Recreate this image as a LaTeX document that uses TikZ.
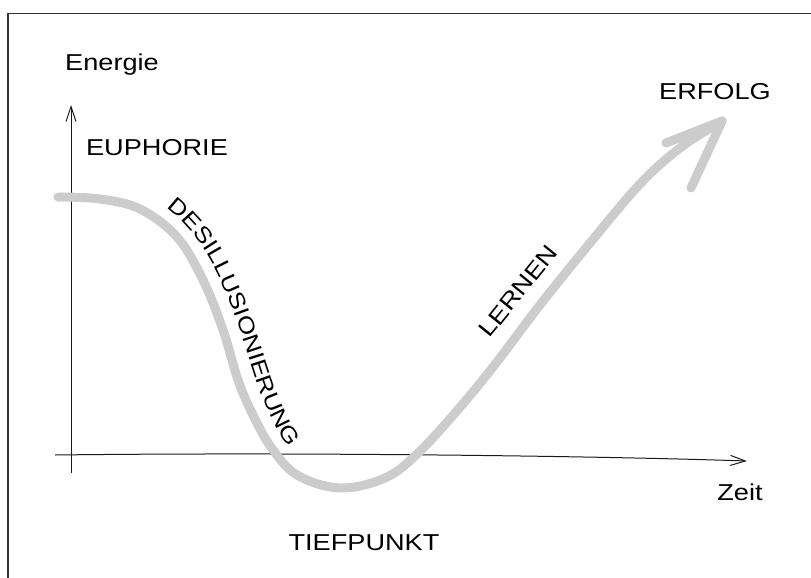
\documentclass[tikz,border=0pt]{standalone}
\usepackage{fontspec}
\setmainfont{Liberation Sans}
\newfontfamily\hand[FakeStretch=1.18]{Liberation Sans}
\newfontfamily\handsp[FakeStretch=1.18,LetterSpace=2]{Liberation Sans}
\usetikzlibrary{arrows.meta,decorations.text}
\begin{document}
\begin{tikzpicture}[x=1pt,y=-1pt,
  lbl/.style={font=\hand\fontsize{23}{26}\selectfont, text=black, inner sep=0pt},
  axis/.style={line width=1pt, draw=black!90, -{Straight Barb[length=15pt,width=10pt]}},
  curve/.style={line width=9pt, draw=black!20, line cap=round, line join=round}]
\useasboundingbox (0,0) rectangle (811,578);
\fill[white] (0,0) rectangle (811,578);
\draw[line width=1.4pt, black!80] (8,578) -- (8,13.5) -- (811,13.5);
% axes
\coordinate (yb) at (71,473);
\coordinate (yt) at (71,105);
\coordinate (xl) at (55,455);
\coordinate (xr) at (747,461);
\draw[axis] (yb) -- (yt);
\draw[axis] (xl) .. controls (300,452) and (600,456) .. (xr);
% main curve
\draw[curve] plot[smooth, tension=0.6] coordinates {(58,197) (100,199) (140,209) (177,237) (203,280) (223,330) (238,380) (252,413) (271,447) (297,475) (340,488) (385,478) (417,454) (455,413) (493,367) (540,305) (590,243) (640,184) (680,148) (722,121)};
\coordinate (tip) at (722,121);
\coordinate (barbA) at (666,143);
\coordinate (barbB) at (691,188);
\draw[curve] (barbA) -- (tip) -- (barbB);
% labels
\node[lbl] (energie) at (112,65) {Energie};
\node[lbl] (euphorie) at (157,148) {EUPHORIE};
\node[lbl] (erfolg) at (715,92) {ERFOLG};
\node[lbl] (tief) at (364,543) {TIEFPUNKT};
\node[lbl] (zeit) at (740,492) {Zeit};
\node[lbl, rotate=51] (lernen) at (518,291) {LERNEN};
\coordinate (d0) at (159,203);
\coordinate (d1) at (294,454);
\path[decorate, decoration={text along path, text align=center,
  text format delimiters={|}{|},
  text={|\handsp\fontsize{22}{26}\selectfont|DESILLUSIONIERUNG}}]
  (d0) .. controls (207,234) and (227,290) .. (247,350) .. controls (260,392) and (272,430) .. (d1);
\end{tikzpicture}
\end{document}
